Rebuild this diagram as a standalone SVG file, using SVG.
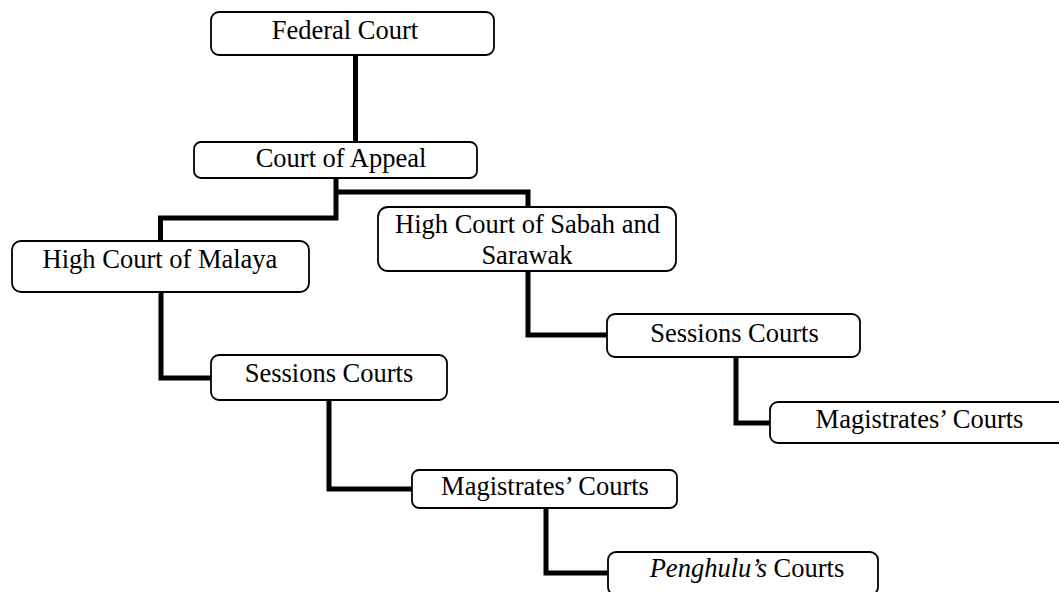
<svg xmlns="http://www.w3.org/2000/svg" width="1059" height="592" viewBox="0 0 1059 592">
<style>
.box{fill:#fff;stroke:#000;stroke-width:1.8}
.lbl{font-family:"Liberation Serif","Times New Roman",serif;font-size:26.5px;fill:#000;text-anchor:middle}
.conn{fill:none;stroke:#000;stroke-width:5;stroke-linejoin:miter;stroke-linecap:butt}
</style>
<rect width="1059" height="592" fill="#fff"/>
<g id="connectors">
<path class="conn" d="M355.5,55 V142"/>
<path class="conn" d="M336,178 V218 H160.5 V241"/>
<path class="conn" d="M336,192 H528 V207"/>
<path class="conn" d="M161,292 V378 H211"/>
<path class="conn" d="M329,400 V489 H412"/>
<path class="conn" d="M546,508 V573 H608"/>
<path class="conn" d="M528,271 V335 H607"/>
<path class="conn" d="M736,357 V423 H770"/>
</g>
<g id="federal-court">
<rect class="box" x="211" y="12" width="283" height="43" rx="8"/>
<text class="lbl" x="345" y="39">Federal Court</text>
</g>
<g id="court-of-appeal">
<rect class="box" x="194" y="142" width="283" height="36" rx="7"/>
<text class="lbl" x="341" y="167">Court of Appeal</text>
</g>
<g id="high-court-malaya">
<rect class="box" x="12" y="241" width="297" height="51" rx="9"/>
<text class="lbl" x="160" y="268">High Court of Malaya</text>
</g>
<g id="high-court-sabah-sarawak">
<rect class="box" x="378" y="207" width="298" height="64" rx="10"/>
<text class="lbl" x="527.5" y="233">High Court of Sabah and</text>
<text class="lbl" x="527" y="264">Sarawak</text>
</g>
<g id="sessions-courts-1">
<rect class="box" x="211" y="355" width="236" height="45" rx="8"/>
<text class="lbl" x="329" y="382">Sessions Courts</text>
</g>
<g id="sessions-courts-2">
<rect class="box" x="607" y="314" width="253" height="43" rx="8"/>
<text class="lbl" x="734.5" y="342">Sessions Courts</text>
</g>
<g id="magistrates-courts-1">
<rect class="box" x="412" y="470" width="265" height="38" rx="7"/>
<text class="lbl" x="545" y="495">Magistrates’ Courts</text>
</g>
<g id="magistrates-courts-2">
<rect class="box" x="770" y="402" width="296" height="41" rx="8"/>
<text class="lbl" x="919.5" y="428">Magistrates’ Courts</text>
</g>
<g id="penghulus-courts">
<rect class="box" x="608" y="552" width="270" height="43" rx="8"/>
<text class="lbl" x="747" y="577"><tspan font-style="italic">Penghulu’s</tspan> Courts</text>
</g>
</svg>
